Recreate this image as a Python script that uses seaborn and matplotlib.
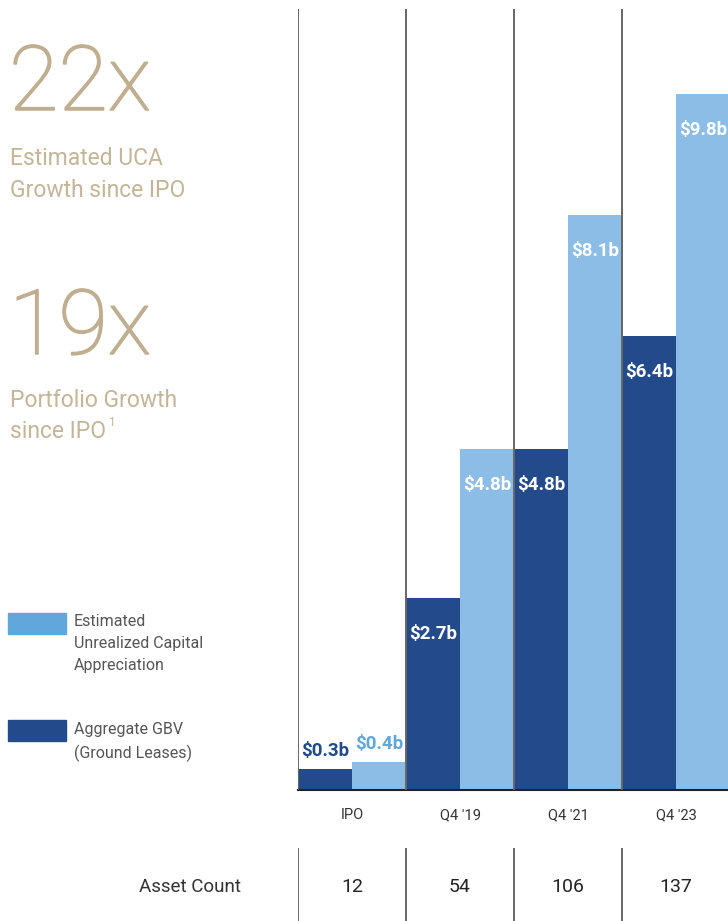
import matplotlib
matplotlib.use("Agg")
import matplotlib.pyplot as plt
import matplotlib.patheffects as pe
import pandas as pd
import seaborn as sns
from matplotlib.patches import Rectangle

# data
periods = ["IPO", "Q4 '19", "Q4 '21", "Q4 '23"]
gbv = [0.3, 2.7, 4.8, 6.4]          # Aggregate GBV (Ground Leases), $b
uca = [0.4, 4.8, 8.1, 9.8]          # Estimated Unrealized Capital Appreciation, $b
asset_count = [12, 54, 106, 137]
series_names = ["Aggregate GBV", "Estimated UCA"]

DARK = "#234b8c"
LIGHT = "#8bbde6"
LIGHT_LABEL = "#5ea8dc"
GOLD = "#bfae8f"
GREY_TXT = "#555555"

df = pd.DataFrame({
    "period": periods * 2,
    "value": gbv + uca,
    "series": [series_names[0]] * len(periods) + [series_names[1]] * len(periods),
})

sns.set_style("white")
plt.rcParams["font.family"] = ["Roboto", "DejaVu Sans"]

W, H = 728, 921
fig = plt.figure(figsize=(W / 100, H / 100), dpi=100)


def fx(px):
    return px / W


def fy(py):
    return 1 - py / H


# main bar axes (right part runs off the page, as in the reference)
ax = fig.add_axes([fx(298), fy(790), fx(432), (790 - 9) / H])
sns.barplot(data=df, x="period", y="value", hue="series", order=periods,
            hue_order=series_names, palette=[DARK, LIGHT], width=1.0,
            saturation=1, legend=False, linewidth=0, ax=ax, zorder=2)
ax.set_xlim(-0.5, len(periods) - 0.5)
ax.set_ylim(0, 11)
ax.set_xlabel("")
ax.set_ylabel("")
ax.set_yticks([])
for s in ["top", "right", "left"]:
    ax.spines[s].set_visible(False)
ax.spines["bottom"].set_color("#222222")
ax.spines["bottom"].set_linewidth(1.5)
ax.tick_params(axis="x", length=0, pad=13, labelsize=10.5, colors="#333333")

ax.vlines([i - 0.5 for i in range(len(periods))], 0, 11,
          colors="#666666", linewidth=1.4, zorder=3)

# value labels
for container, base_col in zip(ax.containers, [DARK, LIGHT_LABEL]):
    for bar in container:
        v = bar.get_height()
        cx = bar.get_x() + bar.get_width() / 2
        txt = f"${v:.1f}b"
        if v < 1:
            ax.annotate(txt, (cx, v), xytext=(0, 6), textcoords="offset points",
                        ha="center", va="bottom", fontsize=13.5, fontweight="bold",
                        color=base_col, zorder=4)
        else:
            ax.annotate(txt, (cx, v), xytext=(0, -26), textcoords="offset points",
                        ha="center", va="center", fontsize=13.5, fontweight="bold",
                        color="white", zorder=4)

# asset count row
ax2 = fig.add_axes([fx(298), 0, fx(432), (921 - 848) / H])
ax2.set_xlim(-0.5, len(periods) - 0.5)
ax2.set_ylim(0, 1)
ax2.axis("off")
ax2.vlines([i - 0.5 for i in range(len(periods))], 0, 1,
           colors="#666666", linewidth=1.4)
for i, n in enumerate(asset_count):
    ax2.text(i, 0.47, str(n), ha="center", va="center", fontsize=14, color="#222222")
fig.text(fx(190), fy(887), "Asset Count", ha="center", va="center",
         fontsize=13.5, color="#333333")

# left-hand headline figures
big = dict(fontweight="light", color=GOLD,
           path_effects=[pe.withStroke(linewidth=1.1, foreground=GOLD)])
small = dict(fontweight="normal", color="#c4b598")
fig.text(fx(9), fy(110), "22x", fontsize=65, va="baseline", **big)
fig.text(fx(10), fy(165), "Estimated UCA", fontsize=16.5, va="baseline", **small)
fig.text(fx(10), fy(197), "Growth since IPO", fontsize=16.5, va="baseline", **small)
fig.text(fx(9), fy(354), "19x", fontsize=65, va="baseline", **big)
fig.text(fx(10), fy(407), "Portfolio Growth", fontsize=16.5, va="baseline", **small)
t = fig.text(fx(10), fy(438), "since IPO", fontsize=16.5, va="baseline", **small)
ext = t.get_window_extent(renderer=fig.canvas.get_renderer())
fig.text(ext.x1 / W + fx(3), fy(426), "1", fontsize=8.5, va="baseline", **small)

# legend
fig.patches.append(Rectangle((fx(8), fy(634)), fx(58), 21 / H,
                             transform=fig.transFigure, color="#5ea8dc", figure=fig))
fig.patches.append(Rectangle((fx(8), fy(741)), fx(58), 21 / H,
                             transform=fig.transFigure, color=DARK, figure=fig))
fig.text(fx(74), fy(614), "Estimated\nUnrealized Capital\nAppreciation", va="top",
         fontsize=11.5, color=GREY_TXT, linespacing=1.6)
fig.text(fx(74), fy(722), "Aggregate GBV\n(Ground Leases)", va="top",
         fontsize=11.5, color=GREY_TXT, linespacing=1.6)

fig.savefig("out.png", dpi=100)
